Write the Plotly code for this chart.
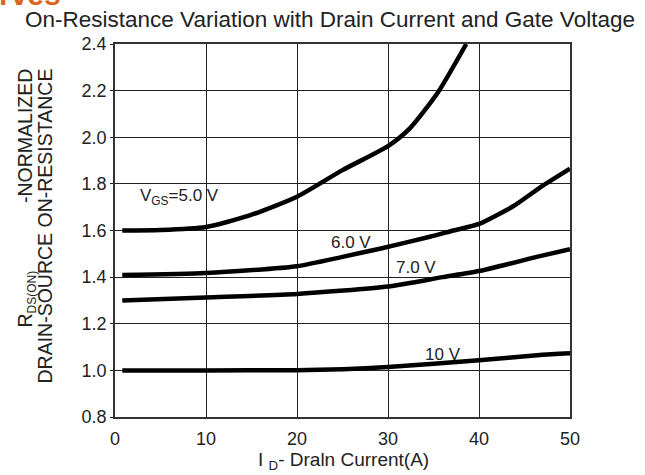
import plotly.graph_objects as go

# ---- data ----
id_5v = [0.8, 5, 10, 14.8, 20, 25, 30, 32.4, 35.5, 38.6]
r_5v = [1.600, 1.602, 1.615, 1.665, 1.745, 1.859, 1.962, 2.038, 2.193, 2.400]

id_6v = [0.8, 10, 20, 25, 29.1, 34.6, 37.2, 40, 43.8, 46.7, 50]
r_6v = [1.409, 1.418, 1.447, 1.487, 1.522, 1.573, 1.600, 1.628, 1.705, 1.784, 1.865]

id_7v = [0.8, 10, 20, 30, 36, 40, 46.7, 50]
r_7v = [1.300, 1.313, 1.328, 1.360, 1.400, 1.426, 1.490, 1.520]

id_10v = [0.8, 10, 20, 25, 30, 40, 46.7, 50]
r_10v = [1.000, 1.000, 1.001, 1.005, 1.014, 1.043, 1.066, 1.073]

curve_labels = ["V<sub>GS</sub>=5.0 V", "6.0 V", "7.0 V", "10 V"]
label_x = [7.1, 25.9, 33.1, 36.0]
label_y = [1.745, 1.548, 1.441, 1.067]

x_ticks = [0, 10, 20, 30, 40, 50]
y_ticks = [0.8, 1.0, 1.2, 1.4, 1.6, 1.8, 2.0, 2.2, 2.4]
y_ticktext = ["0.8", "1.0", "1.2", "1.4", "1.6", "1.8", "2.0", "2.2", "2.4"]

FONT = "Liberation Sans, Arial, sans-serif"
W, H = 645, 475
ML, MR, MT, MB = 115, 75, 44, 58
PW, PH = W - ML - MR, H - MT - MB


def px_x(p):
    return (p - ML) / PW


def px_y(p):
    return (H - MB - p) / PH


fig = go.Figure()
for xs, ys in [(id_5v, r_5v), (id_6v, r_6v), (id_7v, r_7v), (id_10v, r_10v)]:
    fig.add_trace(go.Scatter(x=xs, y=ys, mode="lines",
                             line=dict(color="black", width=4.5, shape="spline", smoothing=0.6),
                             showlegend=False, hoverinfo="skip"))

for t, lx, ly in zip(curve_labels, label_x, label_y):
    fig.add_annotation(x=lx, y=ly, text=t, showarrow=False,
                       font=dict(family=FONT, size=17, color="#222"),
                       xanchor="center", yanchor="middle")

# x axis title
fig.add_annotation(xref="paper", yref="paper", x=px_x(343), y=px_y(461),
                   text="I <sub>D</sub>- Draln Current(A)", showarrow=False,
                   font=dict(family=FONT, size=19, color="#222"),
                   xanchor="center", yanchor="middle")
# y axis title (two rotated lines)
fig.add_annotation(xref="paper", yref="paper", x=px_x(25), y=px_y(67),
                   text="-NORMALIZED", textangle=-90, showarrow=False,
                   font=dict(family=FONT, size=19.5, color="#222"),
                   xanchor="center", yanchor="top")
fig.add_annotation(xref="paper", yref="paper", x=px_x(26), y=px_y(330),
                   text='R<sub><span style="font-size:12px">DS(ON)</span></sub>',
                   textangle=-90, showarrow=False,
                   font=dict(family=FONT, size=19.5, color="#222"),
                   xanchor="center", yanchor="bottom")
fig.add_annotation(xref="paper", yref="paper", x=px_x(44), y=px_y(67),
                   text="DRAIN-SOURCE ON-RESISTANCE", textangle=-90, showarrow=False,
                   font=dict(family=FONT, size=19.5, color="#222"),
                   xanchor="center", yanchor="top")

# cropped orange heading at top-left
fig.add_annotation(xref="paper", yref="paper", x=px_x(-3), y=px_y(13),
                   text="<b>rves</b>", showarrow=False,
                   font=dict(family=FONT, size=30, color="#D9661F"),
                   xanchor="left", yanchor="bottom")

fig.update_layout(
    width=W, height=H,
    margin=dict(l=ML, r=MR, t=MT, b=MB),
    paper_bgcolor="white", plot_bgcolor="white",
    title=dict(text="On-Resistance Variation with Drain Current and Gate Voltage",
               x=330 / W, xanchor="center", y=1 - 19 / H, yanchor="middle",
               font=dict(family=FONT, size=22.5, color="#222")),
    font=dict(family=FONT, size=18, color="#222"),
)
fig.update_xaxes(range=[0, 50], tickvals=x_ticks, ticktext=[str(v) for v in x_ticks],
                 showgrid=True, gridcolor="#222", gridwidth=1.3,
                 showline=True, linecolor="#333", linewidth=1.5, mirror=True,
                 ticks="outside", ticklen=5, tickcolor="rgba(0,0,0,0)", zeroline=False,
                 tickfont=dict(size=18, color="#222"))
fig.update_yaxes(range=[0.8, 2.4], tickvals=y_ticks, ticktext=y_ticktext,
                 showgrid=True, gridcolor="#222", gridwidth=1.3,
                 showline=True, linecolor="#333", linewidth=1.5, mirror=True,
                 ticks="outside", ticklen=3, tickcolor="#222", zeroline=False,
                 tickfont=dict(size=18, color="#222"))

fig.write_html("out.html")
